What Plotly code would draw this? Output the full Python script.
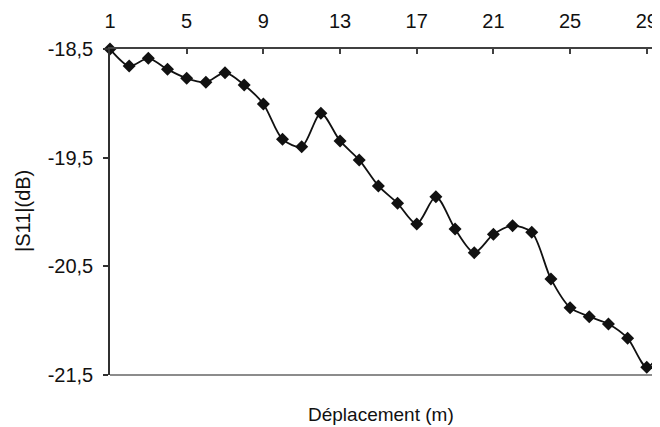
import plotly.graph_objects as go

positions = list(range(1, 31))
s11_db = [-18.500, -18.656, -18.586, -18.687, -18.770, -18.806, -18.718, -18.831,
          -19.006, -19.331, -19.399, -19.092, -19.346, -19.521, -19.760, -19.920,
          -20.110, -19.859, -20.156, -20.374, -20.205, -20.126, -20.186, -20.616,
          -20.880, -20.963, -21.030, -21.161, -21.428, -21.205]
x_ticks = [1, 5, 9, 13, 17, 21, 25, 29]
y_ticks = [-18.5, -19.5, -20.5, -21.5]
y_tick_labels = ["-18,5", "-19,5", "-20,5", "-21,5"]

FONT = "Liberation Sans, Arial, sans-serif"
FS = 20

# The page body has an 8px margin; plot area target (screen px): x 110..660, y 49..375
L, T, B = 102, 41, 52
W, H = 652, 419
PW, PH = W - L, H - T - B

fig = go.Figure()
fig.add_trace(go.Scatter(
    x=positions, y=s11_db, mode="lines+markers",
    line=dict(color="#111111", width=1.8, shape="spline", smoothing=0.8),
    marker=dict(symbol="diamond", size=10, color="#111111"),
    cliponaxis=False, showlegend=False,
))

fig.update_layout(
    width=W, height=H,
    margin=dict(l=L, r=0, t=T, b=B),
    paper_bgcolor="white", plot_bgcolor="white",
    separators=",.",
    font=dict(family=FONT, size=FS, color="#111111"),
    xaxis=dict(
        side="top", range=[1, 29.69], tickvals=x_ticks,
        ticks="inside", ticklen=5, tickcolor="#404040", tickwidth=1.5,
        showline=True, linecolor="#404040", linewidth=1.5,
        showgrid=False, zeroline=False, ticklabelstandoff=11,
        tickfont=dict(family=FONT, size=FS, color="#111111"),
    ),
    yaxis=dict(
        range=[-21.5, -18.5], tickvals=y_ticks, ticktext=y_tick_labels,
        ticks="outside", ticklen=5, tickcolor="#303030", tickwidth=1.5,
        showline=True, linecolor="#303030", linewidth=1.5,
        showgrid=False, zeroline=False, ticklabelstandoff=6,
        tickfont=dict(family=FONT, size=FS, color="#111111"),
    ),
    shapes=[dict(type="line", xref="paper", yref="paper", x0=0, x1=1, y0=0, y1=0,
                 line=dict(color="#8c8c8c", width=2))],
    annotations=[
        dict(text="Déplacement (m)", xref="paper", yref="paper",
             x=(381 - 110) / PW, y=-(414 - 375) / PH, showarrow=False,
             xanchor="center", yanchor="middle",
             font=dict(family=FONT, size=19, color="#111111")),
        dict(text="|S11|(dB)", xref="paper", yref="paper",
             x=-(110 - 23) / PW, y=(375 - 211) / PH, showarrow=False, textangle=-90,
             xanchor="center", yanchor="middle",
             font=dict(family=FONT, size=20, color="#111111")),
    ],
)

fig.write_html("out.html")
